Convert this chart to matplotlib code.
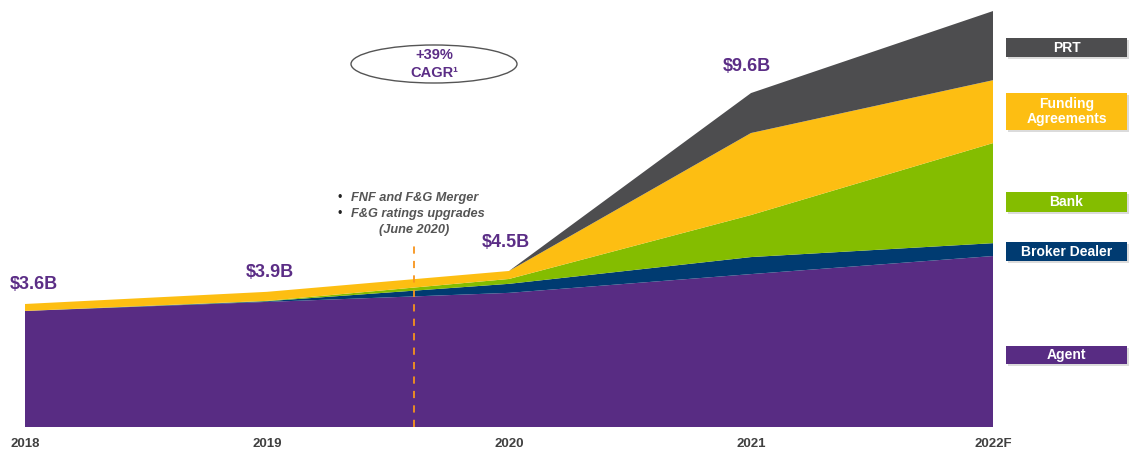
import matplotlib
matplotlib.use("Agg")
import matplotlib.pyplot as plt
from matplotlib.patches import Ellipse, FancyBboxPatch
import numpy as np

plt.rcParams['font.family'] = ['Liberation Sans', 'DejaVu Sans']

years = ['2018', '2019', '2020', '2021', '2022F']
agent = [3.34, 3.60, 3.86, 4.40, 4.92]
broker_dealer = [0.0, 0.02, 0.26, 0.49, 0.37]
bank = [0.0, 0.01, 0.14, 1.21, 2.88]
funding_agreements = [0.20, 0.26, 0.23, 2.36, 1.81]
prt = [0.0, 0.0, 0.0, 1.15, 1.99]
total_labels = ['$3.6B', '$3.9B', '$4.5B', '$9.6B', None]

colors = ['#582C83', '#003B71', '#84BD00', '#FDBE12', '#4D4D4F']
purple = '#5B2D86'

W, H = 1135, 455
fig = plt.figure(figsize=(W / 100, H / 100), dpi=100)

def fx(px):
    return px / W

def fy(py):
    return 1 - py / H

x0, x1 = 25, 993
base = 427
ax = fig.add_axes([fx(x0), fy(base), fx(x1) - fx(x0), (base - 0) / H])
x = np.arange(len(years))
ymax = 427 / 34.75
ax.set_xlim(0, len(years) - 1)
ax.set_ylim(0, ymax)
ax.stackplot(x, agent, broker_dealer, bank, funding_agreements, prt,
             colors=colors, linewidth=0)
ax.axis('off')

# x labels
for i, y in enumerate(years):
    ax.text(i, -0.5, y, ha='center', va='center', fontsize=9.5,
            fontweight='bold', color='#404040', clip_on=False)

# total labels (placed just above each year's stack)
totals = np.sum([agent, broker_dealer, bank, funding_agreements, prt], axis=0)
label_dx = [0.037, 0.012, -0.012, -0.017]
label_dy = [0.55, 0.55, 0.82, 0.77]
for i, lab in enumerate(total_labels):
    if lab is None:
        continue
    ax.text(i + label_dx[i], totals[i] + label_dy[i], lab, ha='center', va='center',
            fontsize=13, fontweight='bold', color=purple, clip_on=False)

# dashed line
xd = (414 - x0) / 242.0
ax.plot([xd, xd], [0, (base - 240) / 34.75], ls=(0, (4, 4)), color='#F7941D', lw=1.3)

# annotation text
fig.text(fx(337), fy(198), '•', fontsize=9, color='#222222', va='center')
fig.text(fx(337), fy(214), '•', fontsize=9, color='#222222', va='center')
fig.text(fx(351), fy(198), 'FNF and F&G Merger', fontsize=9.2, style='italic',
         fontweight='bold', color='#555555', va='center')
fig.text(fx(351), fy(214), 'F&G ratings upgrades', fontsize=9.2, style='italic',
         fontweight='bold', color='#555555', va='center')
fig.text(fx(414), fy(230), '(June 2020)', fontsize=9.2, style='italic',
         fontweight='bold', color='#555555', va='center', ha='center')

# ellipse
ell = Ellipse((fx(434), fy(64)), fx(166), 38 / H, transform=fig.transFigure,
              facecolor='white', edgecolor='#555555', lw=1.0)
fig.add_artist(ell)
fig.text(fx(434), fy(55), '+39%', fontsize=10.5, fontweight='bold', color=purple,
         ha='center', va='center')
fig.text(fx(434), fy(73), 'CAGR¹', fontsize=10.5, fontweight='bold',
         color=purple, ha='center', va='center')

# right legend boxes
boxes = [
    ('PRT', colors[4], 38, 57),
    ('Funding\nAgreements', colors[3], 93, 130),
    ('Bank', colors[2], 192, 212),
    ('Broker Dealer', colors[1], 242, 261),
    ('Agent', colors[0], 346, 364),
]
bx0, bx1 = 1006, 1127
for name, col, top, bot in boxes:
    sh = FancyBboxPatch((fx(bx0 + 2), fy(bot + 2)), fx(bx1 - bx0), (bot - top) / H,
                        boxstyle='square,pad=0', transform=fig.transFigure,
                        facecolor='#B8B8B8', edgecolor='none', alpha=0.5)
    fig.add_artist(sh)
    r = FancyBboxPatch((fx(bx0), fy(bot)), fx(bx1 - bx0), (bot - top) / H,
                       boxstyle='square,pad=0', transform=fig.transFigure,
                       facecolor=col, edgecolor='none')
    fig.add_artist(r)
    fig.text(fx((bx0 + bx1) / 2), fy((top + bot) / 2), name, ha='center', va='center',
             fontsize=10, fontweight='bold', color='white', linespacing=1.1)

fig.savefig('out.png', dpi=100, facecolor='white')
